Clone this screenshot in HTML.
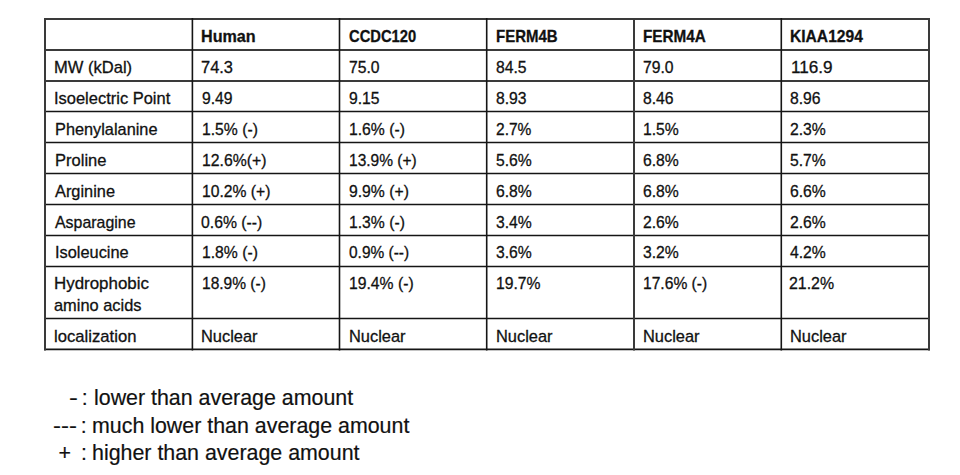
<!DOCTYPE html>
<html><head><meta charset="utf-8"><style>
html,body{margin:0;padding:0;background:#fff;}
body{width:960px;height:475px;position:relative;overflow:hidden;font-family:"Liberation Sans",sans-serif;color:#111;}
.t{position:absolute;font-size:17px;line-height:20px;white-space:nowrap;transform-origin:0 0;-webkit-text-stroke:0.3px #111;}
.b{font-weight:bold;}
.l{position:absolute;font-size:21.3px;line-height:25px;white-space:nowrap;transform-origin:0 0;-webkit-text-stroke:0.2px #111;}
</style></head><body>
<svg width="960" height="475" style="position:absolute;left:0;top:0">
<line x1="44.0" y1="19" x2="930.0" y2="19" stroke="#3a3a3a" stroke-width="2"/>
<line x1="44.0" y1="50" x2="930.0" y2="50" stroke="#3a3a3a" stroke-width="2"/>
<line x1="44.0" y1="81" x2="930.0" y2="81" stroke="#3a3a3a" stroke-width="2"/>
<line x1="44.0" y1="111.5" x2="930.0" y2="111.5" stroke="#151515" stroke-width="1.6"/>
<line x1="44.0" y1="142.5" x2="930.0" y2="142.5" stroke="#151515" stroke-width="1.6"/>
<line x1="44.0" y1="173.5" x2="930.0" y2="173.5" stroke="#151515" stroke-width="1.6"/>
<line x1="44.0" y1="204.5" x2="930.0" y2="204.5" stroke="#151515" stroke-width="1.6"/>
<line x1="44.0" y1="235.5" x2="930.0" y2="235.5" stroke="#151515" stroke-width="1.6"/>
<line x1="44.0" y1="266.5" x2="930.0" y2="266.5" stroke="#151515" stroke-width="1.6"/>
<line x1="44.0" y1="318.5" x2="930.0" y2="318.5" stroke="#151515" stroke-width="1.6"/>
<line x1="44.0" y1="349.4" x2="930.0" y2="349.4" stroke="#151515" stroke-width="1.6"/>
<line x1="45" y1="18.0" x2="45" y2="350.4" stroke="#3a3a3a" stroke-width="2"/>
<line x1="192.4" y1="18.0" x2="192.4" y2="350.4" stroke="#151515" stroke-width="1.6"/>
<line x1="339.5" y1="18.0" x2="339.5" y2="350.4" stroke="#151515" stroke-width="1.6"/>
<line x1="486.7" y1="18.0" x2="486.7" y2="350.4" stroke="#151515" stroke-width="1.6"/>
<line x1="634" y1="18.0" x2="634" y2="350.4" stroke="#3a3a3a" stroke-width="2"/>
<line x1="781.3" y1="18.0" x2="781.3" y2="350.4" stroke="#151515" stroke-width="1.6"/>
<line x1="929" y1="18.0" x2="929" y2="350.4" stroke="#3a3a3a" stroke-width="2"/>
</svg>
<div class="t b" style="left:201.0px;top:27px;transform:scaleX(0.9496)">Human</div>
<div class="t b" style="left:349.3px;top:27px;transform:scaleX(0.8679)">CCDC120</div>
<div class="t b" style="left:495.7px;top:27px;transform:scaleX(0.8808)">FERM4B</div>
<div class="t b" style="left:642.8px;top:27px;transform:scaleX(0.8986)">FERM4A</div>
<div class="t b" style="left:789.9px;top:27px;transform:scaleX(0.9179)">KIAA1294</div>
<div class="t" style="left:53.8px;top:58px;transform:scaleX(0.9727)">MW (kDal)</div>
<div class="t" style="left:200.6px;top:58px;transform:scaleX(0.9671)">74.3</div>
<div class="t" style="left:349.3px;top:58px;transform:scaleX(0.9250)">75.0</div>
<div class="t" style="left:495.8px;top:58px;transform:scaleX(0.9250)">84.5</div>
<div class="t" style="left:642.8px;top:58px;transform:scaleX(0.9250)">79.0</div>
<div class="t" style="left:790.6999999999999px;top:58px;transform:scaleX(1.0064)">116.9</div>
<div class="t" style="left:54.4px;top:89px;transform:scaleX(0.9684)">Isoelectric Point</div>
<div class="t" style="left:201.70000000000002px;top:89px;transform:scaleX(0.9250)">9.49</div>
<div class="t" style="left:349.3px;top:89px;transform:scaleX(0.9250)">9.15</div>
<div class="t" style="left:495.8px;top:89px;transform:scaleX(0.9250)">8.93</div>
<div class="t" style="left:642.8px;top:89px;transform:scaleX(0.9250)">8.46</div>
<div class="t" style="left:790.3px;top:89px;transform:scaleX(0.9250)">8.96</div>
<div class="t" style="left:54.6px;top:120px;transform:scaleX(0.9593)">Phenylalanine</div>
<div class="t" style="left:201.9px;top:120px;transform:scaleX(0.9249)">1.5% (-)</div>
<div class="t" style="left:349.3px;top:120px;transform:scaleX(0.9250)">1.6% (-)</div>
<div class="t" style="left:495.8px;top:120px;transform:scaleX(0.9145)">2.7%</div>
<div class="t" style="left:642.8px;top:120px;transform:scaleX(0.9250)">1.5%</div>
<div class="t" style="left:790.3px;top:120px;transform:scaleX(0.9250)">2.3%</div>
<div class="t" style="left:54.6px;top:151px;transform:scaleX(0.9731)">Proline</div>
<div class="t" style="left:201.9px;top:151px;transform:scaleX(0.9277)">12.6%(+)</div>
<div class="t" style="left:349.3px;top:151px;transform:scaleX(0.9125)">13.9% (+)</div>
<div class="t" style="left:495.8px;top:151px;transform:scaleX(0.9250)">5.6%</div>
<div class="t" style="left:642.8px;top:151px;transform:scaleX(0.9250)">6.8%</div>
<div class="t" style="left:790.3px;top:151px;transform:scaleX(0.9250)">5.7%</div>
<div class="t" style="left:54.8px;top:182px;transform:scaleX(0.9619)">Arginine</div>
<div class="t" style="left:201.9px;top:182px;transform:scaleX(0.9226)">10.2% (+)</div>
<div class="t" style="left:349.3px;top:182px;transform:scaleX(0.9250)">9.9% (+)</div>
<div class="t" style="left:495.8px;top:182px;transform:scaleX(0.9250)">6.8%</div>
<div class="t" style="left:642.8px;top:182px;transform:scaleX(0.9250)">6.8%</div>
<div class="t" style="left:790.3px;top:182px;transform:scaleX(0.9250)">6.6%</div>
<div class="t" style="left:54.8px;top:213px;transform:scaleX(0.9368)">Asparagine</div>
<div class="t" style="left:201.4px;top:213px;transform:scaleX(0.9271)">0.6% (--)</div>
<div class="t" style="left:349.3px;top:213px;transform:scaleX(0.9250)">1.3% (-)</div>
<div class="t" style="left:495.8px;top:213px;transform:scaleX(0.9250)">3.4%</div>
<div class="t" style="left:642.8px;top:213px;transform:scaleX(0.9250)">2.6%</div>
<div class="t" style="left:790.3px;top:213px;transform:scaleX(0.9250)">2.6%</div>
<div class="t" style="left:54.6px;top:243px;transform:scaleX(0.9627)">Isoleucine</div>
<div class="t" style="left:201.9px;top:243px;transform:scaleX(0.9249)">1.8% (-)</div>
<div class="t" style="left:349.3px;top:243px;transform:scaleX(0.9095)">0.9% (--)</div>
<div class="t" style="left:495.8px;top:243px;transform:scaleX(0.9250)">3.6%</div>
<div class="t" style="left:642.8px;top:243px;transform:scaleX(0.9250)">3.2%</div>
<div class="t" style="left:790.3px;top:243px;transform:scaleX(0.9250)">4.2%</div>
<div class="t" style="left:53.6px;top:274px;transform:scaleX(0.9949)">Hydrophobic</div>
<div class="t" style="left:201.9px;top:274px;transform:scaleX(0.9137)">18.9% (-)</div>
<div class="t" style="left:349.3px;top:274px;transform:scaleX(0.9250)">19.4% (-)</div>
<div class="t" style="left:495.8px;top:274px;transform:scaleX(0.9250)">19.7%</div>
<div class="t" style="left:642.75px;top:274px;transform:scaleX(0.9186)">17.6% (-)</div>
<div class="t" style="left:789.4px;top:274px;transform:scaleX(0.9352)">21.2%</div>
<div class="t" style="left:53.6px;top:327px;transform:scaleX(0.9798)">localization</div>
<div class="t" style="left:201.20000000000002px;top:327px;transform:scaleX(0.9645)">Nuclear</div>
<div class="t" style="left:349.3px;top:327px;transform:scaleX(0.9645)">Nuclear</div>
<div class="t" style="left:495.8px;top:327px;transform:scaleX(0.9645)">Nuclear</div>
<div class="t" style="left:642.8px;top:327px;transform:scaleX(0.9645)">Nuclear</div>
<div class="t" style="left:790.3px;top:327px;transform:scaleX(0.9645)">Nuclear</div>
<div class="t" style="left:53.6px;top:295.5px;transform:scaleX(0.9650)">amino acids</div>
<div class="l" style="left:68.9px;top:386px;transform:scaleX(1.25)">-</div>
<div class="l" style="left:81.8px;top:386px;transform:scaleX(1.0)">:</div>
<div class="l" style="left:93.5px;top:386px;transform:scaleX(1.004)">lower than average amount</div>
<div class="l" style="left:53.0px;top:413.5px;transform:scaleX(1.12)">---</div>
<div class="l" style="left:80.7px;top:413.5px;transform:scaleX(1.0)">:</div>
<div class="l" style="left:92.1px;top:413.5px;transform:scaleX(1.004)">much lower than average amount</div>
<div class="l" style="left:58.5px;top:441px;transform:scaleX(1.0)">+</div>
<div class="l" style="left:80.9px;top:441px;transform:scaleX(1.0)">:</div>
<div class="l" style="left:92.1px;top:441px;transform:scaleX(1.004)">higher than average amount</div>
</body></html>
